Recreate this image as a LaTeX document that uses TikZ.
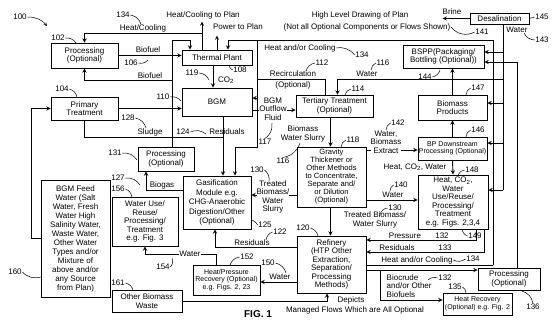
\documentclass[tikz,border=0pt]{standalone}
\usepackage{fontspec}
\setmainfont{Liberation Sans}
\usetikzlibrary{positioning}
\newcommand{\boxfont}{\fontsize{8}{8.5}\selectfont}
\newcommand{\smfont}{\fontsize{7}{7.6}\selectfont}
\tikzset{
  blk/.style={draw,line width=0.9pt,align=center,inner sep=0pt,font=\boxfont},
  lbl/.style={inner sep=0.5pt,align=center,font=\boxfont},
  flow/.style={line width=0.9pt},
  lead/.style={line width=0.5pt},
}

\begin{document}
\begin{tikzpicture}[x=1pt,y=-1pt]
\useasboundingbox (0,0) rectangle (554,320);

% boxes
\node[blk,minimum width=67pt,minimum height=25pt] (proc1) at (84.5,55.5) {Processing\\(Optional)};
\node[blk,minimum width=70pt,minimum height=15pt] (thermal) at (217,57.5) {Thermal Plant};
\node[blk,minimum width=67pt,minimum height=23pt] (primary) at (84.5,108.5) {Primary\\Treatment};
\node[blk,minimum width=70pt,minimum height=28pt] (bgm) at (217,102) {BGM};
\node[blk,minimum width=77pt,minimum height=22pt] (tert) at (334.5,106) {Tertiary Treatment\\(Optional)};
\node[blk,minimum width=81pt,minimum height=23pt] (bspp) at (443.5,56.5) {BSPP(Packaging/\\Bottling (Optional))};
\node[blk,minimum width=59pt,minimum height=11pt] (desal) at (499.5,18.5) {Desalination};
\node[blk,minimum width=69pt,minimum height=25pt] (bioprod) at (452.5,107.5) {Biomass\\Products};
\node[blk,font=\smfont,minimum width=69pt,minimum height=23pt] (bpdown) at (452.5,148.5) {BP Downstream\\Processing (Optional)};
\node[blk,minimum width=70pt,minimum height=54pt] (heatco) at (453,202) {Heat, CO\textsubscript{2},\\Water\\Use/Reuse/\\Processing/\\Treatment\\e.g. Figs. 2,3,4};
\node[blk,font=\fontsize{7.6}{8}\selectfont,minimum width=69pt,minimum height=60pt] (grav) at (331.5,177) {Gravity\\Thickener or\\Other Methods\\to Concentrate,\\Separate and/\\or Dilution\\(Optional)};
\node[blk,minimum width=56pt,minimum height=24pt] (proc2) at (166,159) {Processing\\(Optional)};
\node[blk,font=\fontsize{8}{9.5}\selectfont,minimum width=68pt,minimum height=53pt] (gasif) at (217,202.5) {Gasification\\Module e.g.\\CHG-Anaerobic\\Digestion/Other\\(Optional)};
\node[blk,font=\fontsize{8}{9}\selectfont,minimum width=69pt,minimum height=117pt] (feed) at (75.5,238.5) {BGM Feed\\Water (Salt\\Water, Fresh\\Water High\\Salinity Water,\\Waste Water,\\Other Water\\Types and/or\\Mixture of\\above and/or\\any Source\\from Plan)};
\node[blk,minimum width=66pt,minimum height=49pt] (wateruse) at (145,221.5) {Water Use/\\Reuse/\\Processing/\\Treatment\\e.g. Fig. 3};
\node[blk,minimum width=70pt,minimum height=22pt] (other) at (147,301) {Other Biomass\\Waste};
\node[blk,font=\smfont,minimum width=67pt,minimum height=30pt] (heatpr) at (226.5,280) {Heat/Pressure\\Recovery (Optional)\\e.g. Figs. 2, 23};
\node[blk,minimum width=69pt,minimum height=57pt] (refin) at (331.5,264.5) {Refinery\\(HTP Other\\Extraction,\\Separation/\\Processing\\Methods)};
\node[blk,minimum width=62pt,minimum height=22pt] (proc3) at (509,279) {Processing\\(Optional)};
\node[blk,font=\smfont,minimum width=69pt,minimum height=22pt] (heatrec) at (477.5,304) {Heat Recovery\\(Optional) e.g. Fig. 2};

% top notes
\node[lbl] (l100) at (20,17) {100};
\draw[lead,-stealth] (l100.east) to[bend left=25] (47,26);
\node[lbl] (hctp) at (203,15) {Heat/Cooling to Plan};
\node[lbl] (ptp) at (238,27) {Power to Plan};
\node[lbl] (title) at (360,15) {High Level Drawing of Plan};
\node[lbl] (title2) at (367,27) {(Not all Optional Components or Flows Shown)};

% thermal plant out
\draw[flow,-stealth] ([xshift=-15pt]thermal.north) -- ++(0,-28);
\draw[flow,-stealth] (thermal.north) -- ++(0,-14);
\draw[flow,-stealth] (202,33) -| (proc1.north);
\node[lbl] (hc) at (143,28) {Heat/Cooling};
\node[lbl] (l134a) at (123,15) {134};
\draw[lead] (l134a.east) to[bend left=30] (141,24);
\node[lbl] (l102) at (58,38) {102};
\draw[lead] (l102.east) to[bend left=30] (76,43);
\node[lbl] (l108) at (240,70) {108};
\draw[lead] (l108.west) to[bend left=20] (229,66);

% biofuel
\draw[flow,-stealth] (proc1.east) -- (proc1.east -| thermal.west);
\node[lbl] (bf1) at (148,50) {Biofuel};
\draw[flow,-stealth] ([xshift=6pt]proc2.north) -- (172,40) -- (190,40) -- ([xshift=-27pt]thermal.north);
\draw[flow,-stealth] (172,80) -| (proc1.south);
\node[lbl] (bf2) at (150,76) {Biofuel};
\node[lbl] (l106) at (131,63) {106};
\draw[lead] (l106.east) to[bend right=30] (148,60);

% co2
\draw[flow,-stealth] ([xshift=-4pt]thermal.south) -- ([xshift=-4pt]bgm.north);
\node[lbl] (co2) at (226,80) {CO\textsubscript{2}};
\node[lbl] (l119) at (192,73) {119};
\draw[lead] (l119.east) to[bend left=30] (209,80);
\node[lbl] (l110) at (163,97) {110};
\draw[lead] (l110.east) to[bend left=30] (181,101);

% feed water / primary
\draw[flow,-stealth] (feed.west) -- ++(-9,0) |- (primary.west);
\draw[flow,-stealth] (primary.east) -- (primary.east -| bgm.west);
\node[lbl] (l104) at (62,89) {104};
\draw[lead] (l104.east) to[bend left=30] (77,97);
\node[lbl] (l160) at (15,272) {160};
\draw[lead] (l160.east) to[bend right=30] (41,277);

% sludge, residuals
\draw[flow] (primary.south) |- (223,137);
\draw[flow,-stealth] ([xshift=6pt]bgm.south) -- ([xshift=6pt]gasif.north);
\node[lbl] (sl) at (150,132) {Sludge};
\node[lbl] (l128) at (128,118) {128};
\draw[lead] (l128.east) to[bend left=30] (146,128);
\node[lbl] (res1) at (227,132) {Residuals};
\node[lbl] (l124) at (183,132) {124};
\draw[lead] (l124.east) to[bend left=30] (206,134);

% heat and/or cooling
\draw[flow,-stealth] (493,265) -- (493,40) -- (228,40) -- ([xshift=11pt]thermal.north);
\draw[flow,-stealth] (257,40) |- ([yshift=4pt]bgm.east);
\draw[flow,-stealth] (257,98) |- (235,147) -- ([xshift=18pt]gasif.north);
\node[lbl] (hac1) at (300,48) {Heat and/or Cooling};
\node[lbl] (l134b) at (362,55) {134};
\draw[lead] (hac1.east) to[bend left=30] (l134b.west);

% recirculation, water to tertiary
\draw[flow] ([xshift=-9pt]tert.north) |- (257,79);
\node[lbl] (rc) at (293,74) {Recirculation};
\node[lbl] (rco) at (293,85) {(Optional)};
\node[lbl] (l112) at (322,63) {112};
\draw[lead] (l112.west) to[bend right=30] (306,71);
\draw[flow,-stealth] (503,79) -| ([xshift=3pt]tert.north);
\node[lbl] (w116) at (367,74) {Water};
\node[lbl] (l116) at (383,63) {116};
\draw[lead] (l116.west) to[bend right=30] (371,70);
\node[lbl] (l114) at (358,89) {114};
\draw[lead] (l114.west) to[bend right=30] (345,95);

% bgm outflow
\draw[flow,-stealth] ([yshift=-8pt]bgm.east) -- ([yshift=-8pt]bgm.east -| tert.west);
\node[lbl,fill=white,inner sep=0pt] (bof) at (273,109) {BGM\\Outflow\\Fluid};
\node[lbl] (l117) at (265,142) {117};
\draw[lead] (l117.north) to[bend right=30] (272,123);

% tertiary to gravity
\draw[flow,-stealth] ([xshift=-4pt]tert.south) -- ([xshift=-1pt]grav.north);
\node[lbl] (bws) at (303,134) {Biomass\\Water Slurry};
\node[lbl] (l116b) at (283,161) {116};
\draw[lead] (l116b.north) to[bend right=30] (300,143);
\node[lbl] (l118) at (353,140) {118};
\draw[lead] (l118.west) to[bend right=30] (341,147);

% gravity outputs
\draw[flow,-stealth] ([yshift=-18pt]grav.west) -- ([yshift=-18pt]grav.west -| gasif.east);
\node[lbl,fill=white,inner sep=0pt] (tbw1) at (273,197) {Treated\\Biomass/\\Water\\Slurry};
\node[lbl] (l130a) at (257,170) {130};
\draw[lead] (l130a.east) to[bend left=30] (269,181);
\draw[flow,-stealth] ([xshift=-1pt]grav.south) -- ([xshift=-1pt]refin.north);
\node[lbl] (tbw2) at (375,220) {Treated Biomass/\\Water Slurry};
\node[lbl] (l130b) at (395,208) {130};
\draw[lead] (l130b.west) to[bend right=30] (380,214);
\draw[flow,-stealth] ([yshift=27pt]grav.east) -- ([yshift=27pt]grav.east -| bpdown.west);
\node[lbl,fill=white,inner sep=0pt] (wbe) at (386,142) {Water,\\Biomass\\Extract};
\node[lbl] (l142) at (398,123) {142};
\draw[lead] (l142.west) to[bend right=30] (386,130);
\draw[flow,-stealth] ([yshift=-23pt]grav.east) -- ([yshift=-23pt]grav.east -| heatco.west);
\node[lbl] (w140) at (393,195) {Water};
\node[lbl] (l140) at (401,185) {140};
\draw[lead] (l140.west) to[bend right=30] (390,191);

% products chain
\draw[flow,-stealth] (bpdown.north) -- (bioprod.south);
\draw[flow,-stealth] (bioprod.north) -- (bioprod.north |- bspp.south);
\draw[flow,-stealth] (bpdown.south) -- (heatco.north);
\node[lbl] (hcw) at (415,167) {Heat, CO\textsubscript{2}, Water};
\node[lbl] (l144) at (425,77) {144};
\draw[lead] (l144.east) to[bend right=30] (440,70);
\node[lbl] (l147) at (478,88) {147};
\draw[lead] (l147.west) to[bend right=30] (466,95);
\node[lbl] (l146) at (478,130) {146};
\draw[lead] (l146.west) to[bend right=30] (466,137);
\node[lbl] (l148) at (472,170) {148};
\draw[lead] (l148.west) to[bend right=30] (458,175);

% desalination
\draw[flow,-stealth] (desal.west) -- ++(-27,0);
\node[lbl] (brine) at (452,12) {Brine};
\node[lbl] (l145) at (542,17) {145};
\draw[lead] (l145.west) -- (desal.east);
\node[lbl] (dw) at (517,30) {Water};
\node[lbl] (l143) at (542,40) {143};
\draw[lead] (l143.west) to[bend left=30] (524,33);
\node[lbl] (l141) at (482,32) {141};
\draw[lead] (title2.east) to[bend right=40] (l141.west);
\draw[flow] ([xshift=3.5pt]desal.south) -- (503,190);
\draw[flow,-stealth] (503,52) -- (503,52 -| bspp.east);
\draw[flow,-stealth] (503,103) -- (503,103 -| bioprod.east);
\draw[flow,-stealth] (503,143) -- (503,143 -| bpdown.east);
\draw[flow,-stealth] (503,190) -- (503,190 -| heatco.east);
\draw[flow,-stealth] ([xshift=8pt]proc3.north) |- (bspp.east |- 0,62);

% processing 131, biogas, water use
\draw[flow,-stealth] ([yshift=12.5pt]gasif.west) -| ([xshift=-20pt]proc2.south);
\node[lbl] (bg) at (162,185) {Biogas};
\node[lbl] (l127) at (118,178) {127};
\draw[lead] (l127.east) to[bend left=30] (140,185);
\node[lbl] (l131) at (115,153) {131};
\draw[lead] (l131.east) to[bend left=30] (137,160);
\node[lbl] (l156) at (118,189) {156};
\draw[lead] (l156.east) to[bend left=30] (132,197);
\draw[flow,-stealth] ([xshift=-10pt]heatpr.north) |- ([yshift=-8pt]wateruse.south) -- (wateruse.south);
\node[lbl,fill=white,inner sep=0pt] (w154) at (190,254) {Water};
\node[lbl] (l154) at (163,267) {154};
\draw[lead] (l154.east) to[bend right=30] (172,258);
\node[lbl] (l152) at (247,257) {152};
\draw[lead] (l152.west) to[bend right=30] (230,265);
\node[lbl] (l161) at (118,283) {161};
\draw[lead] (l161.east) to[bend left=30] (133,290);
\node[lbl] (l125) at (265,225) {125};
\draw[lead] (l125.west) to[bend right=20] (252,220);

% refinery in / out
\draw[flow,-stealth] ([yshift=17.5pt]refin.west) -| ([xshift=-2pt]gasif.south);
\node[lbl] (res2) at (252,243) {Residuals};
\node[lbl] (l122) at (280,232) {122};
\draw[lead] (l122.west) to[bend right=30] (266,240);
\draw[flow,-stealth] ([yshift=-17.5pt]refin.west) -- ([yshift=-17.5pt]refin.west -| heatpr.east);
\node[lbl] (w150) at (280,277) {Water};
\node[lbl] (l150) at (268,263) {150};
\draw[lead] (l150.east) to[bend left=30] (286,273);
\draw[flow,-stealth] (other.east) -| ([xshift=-4.5pt]refin.south);
\node[lbl] (l120) at (303,228) {120};
\draw[lead] (l120.east) to[bend left=30] (318,236);
\draw[flow,-stealth] ([xshift=23pt]heatco.south) |- ([yshift=24.5pt]refin.east);
\node[lbl] (prs) at (405,236) {Pressure};
\node[lbl] (l132a) at (442,236) {132};
\draw[flow,-stealth] ([xshift=31pt]heatco.south) |- ([yshift=12.5pt]refin.east);
\node[lbl] (res3) at (397,248) {Residuals};
\node[lbl] (l133) at (445,248) {133};
\node[lbl] (l149) at (475,236) {149};
\draw[lead] (l149.west) to[bend left=30] (462,229);
\draw[flow] ([yshift=-0.5pt]refin.east) -- (493,265);
\node[lbl] (hac2) at (417,260) {Heat and/or Cooling};
\node[lbl] (l134c) at (473,259) {134};
\draw[lead] (hac2.east) to[bend right=30] (l134c.west);
\draw[flow,-stealth] ([yshift=-5.5pt]refin.east) -- ([yshift=9pt]proc3.west);
\draw[flow,-stealth] (380,270) |- ([yshift=4pt]heatrec.west);
\node[lbl,align=left,anchor=west] (bio) at (386,286) {Biocrude\\and/or Other\\Biofuels};
\node[lbl] (l132b) at (445,278) {132};
\draw[lead] (l132b.west) to[bend right=30] (428,280);
\node[lbl] (l135) at (455,287) {135};
\draw[lead] (l135.east) to[bend left=30] (466,293);
\node[lbl] (l136) at (533,307) {136};
\draw[lead] (l136.north) to[bend right=30] (522,291);

% footer
\node[lbl] (dep) at (351,300) {Depicts};
\node[lbl] (dep2) at (355,310) {Managed Flows Which are All Optional};
\node[lbl,font=\fontsize{10}{11}\selectfont\bfseries] (fig) at (258,314) {FIG. 1};
\end{tikzpicture}
\end{document}
